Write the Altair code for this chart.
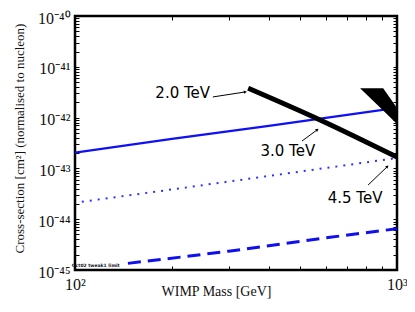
import altair as alt
import pandas as pd

# ---- data ----
solid_mass = [100, 200, 400, 1000]
solid_xs = [2.05e-43, 3.8e-43, 6.9e-43, 1.55e-42]

dotted_mass = [105, 200, 400, 1000]
dotted_xs = [2.2e-44, 3.85e-44, 7.1e-44, 1.6e-43]

dashed_mass = [146, 300, 620, 1000]
dashed_xs = [1.35e-45, 2.35e-45, 4.4e-45, 6.5e-45]

band_mass = [345, 577, 1000]
band_xs = [3.8e-42, 9.0e-43, 1.67e-43]

wedge_mass = [768, 906, 1000]
wedge_top = [3.8e-42, 3.8e-42, 1.55e-42]
wedge_bot = [3.8e-42, 1.38e-42, 7.5e-43]

labels = ["2.0 TeV", "3.0 TeV", "4.5 TeV"]
label_mass = [216, 458, 741]
label_xs = [3.05e-42, 2.2e-43, 2.6e-44]

arrow_x1 = [268, 507, 813]
arrow_y1 = [2.55e-42, 3.46e-43, 4.7e-44]
arrow_x2 = [337, 564, 931]
arrow_y2 = [3.19e-42, 5.7e-43, 1.07e-43]
arrow_angle = [81, 54, 46]

note_text = ["Oct02 tweak1 limit"]
note_mass = [116]
note_xs = [1.2e-45]

x_ticks = [100, 200, 300, 400, 500, 600, 700, 800, 900, 1000]
y_major = [-45, -44, -43, -42, -41, -40]
y_ticks = [float(f"{k}e{e}") for e in y_major[:-1] for k in range(1, 10)] + [1e-40]

sup = {"-": "\u207b", "0": "\u2070", "1": "\u00b9", "2": "\u00b2", "3": "\u00b3",
       "4": "\u2074", "5": "\u2075", "6": "\u2076", "7": "\u2077", "8": "\u2078", "9": "\u2079"}


def supstr(s):
    return "".join(sup[c] for c in s)


y_label_expr = " : ".join(
    f"datum.value == {float(f'1e{e}')!r} ? '10{supstr(str(e))}'" for e in y_major
) + " : ''"
x_label_expr = f"datum.value == 100 ? '10{supstr('2')}' : datum.value == 1000 ? '10{supstr('3')}' : ''"

SERIF = "Liberation Serif"
SANS = "DejaVu Sans"

xscale = alt.Scale(type="log", domain=[100, 1000], nice=False)
yscale = alt.Scale(type="log", domain=[1e-45, 1e-40], nice=False)

x_axis = alt.Axis(orient="bottom", values=x_ticks, labelExpr=x_label_expr, offset=-4, tickSize=4,
                  tickColor="black", domain=False, grid=False, labelPadding=6, labelFont=SERIF,
                  labelFontSize=16, labelColor="#111", labelFlush=False, labelOverlap=False,
                  labelBound=False, title="WIMP Mass [GeV]", titleFont=SERIF, titleFontSize=14,
                  titleFontWeight="normal", titleColor="#111", titleX=141, titleY=25,
                  titleAlign="center", titleBaseline="middle")
y_axis = alt.Axis(orient="left", values=y_ticks, labelExpr=y_label_expr, offset=-4, tickSize=4,
                  tickColor="black", domain=False, grid=False, labelPadding=5, labelFont=SERIF,
                  labelFontSize=16, labelColor="#111", labelFlush=False, labelOverlap=False,
                  labelBound=False, labelOffset=2,
                  title="Cross-section [cm\u00b2] (normalised to nucleon)", titleFont=SERIF,
                  titleFontSize=13, titleFontWeight="normal", titleColor="#111", titleAngle=270,
                  titleX=-60, titleY=122, titleAlign="center", titleBaseline="middle")

X = alt.X("x:Q", scale=xscale, axis=x_axis)
Y = alt.Y("y:Q", scale=yscale, axis=y_axis)

solid_df = pd.DataFrame({"x": solid_mass, "y": solid_xs})
dotted_df = pd.DataFrame({"x": dotted_mass, "y": dotted_xs})
dashed_df = pd.DataFrame({"x": dashed_mass, "y": dashed_xs})
band_df = pd.DataFrame({"x": band_mass, "y": band_xs})
wedge_df = pd.DataFrame({"x": wedge_mass, "y": wedge_top, "y2": wedge_bot})
label_df = pd.DataFrame({"x": label_mass, "y": label_xs, "t": labels})
arrow_df = pd.DataFrame({"x": arrow_x1, "y": arrow_y1, "x2": arrow_x2, "y2": arrow_y2, "a": arrow_angle})
note_df = pd.DataFrame({"x": note_mass, "y": note_xs, "t": note_text})

solid = alt.Chart(solid_df).mark_line(color="#1010f5", strokeWidth=2.3, clip=True).encode(x=X, y=Y)
dotted = alt.Chart(dotted_df).mark_line(color="#3030ff", strokeWidth=2, strokeDash=[2, 6],
                                        clip=True).encode(x=X, y=Y)
dashed = alt.Chart(dashed_df).mark_line(color="#1010ee", strokeWidth=3, strokeDash=[13, 7],
                                        interpolate="monotone", clip=True).encode(x=X, y=Y)
band = alt.Chart(band_df).mark_line(color="black", strokeWidth=5, interpolate="monotone",
                                    clip=True).encode(x=X, y=Y)
wedge = alt.Chart(wedge_df).mark_area(color="black", clip=True).encode(
    x=X, y=Y, y2=alt.Y2("y2:Q"))
texts = alt.Chart(label_df).mark_text(font=SANS, fontSize=15, color="black", align="center",
                                      baseline="middle").encode(x=X, y=Y, text="t:N")
arrows = alt.Chart(arrow_df).mark_rule(color="black", strokeWidth=1).encode(
    x=X, y=Y, x2=alt.X2("x2:Q"), y2=alt.Y2("y2:Q"))
heads = alt.Chart(arrow_df).mark_point(shape="triangle", filled=True, color="black", size=12,
                                       opacity=1).encode(
    x=alt.X("x2:Q", scale=xscale, axis=x_axis), y=alt.Y("y2:Q", scale=yscale, axis=y_axis),
    angle=alt.Angle("a:Q", scale=None))
note = alt.Chart(note_df).mark_text(font=SANS, fontSize=4.5, color="#112", align="center",
                                    baseline="middle", fontWeight="bold").encode(x=X, y=Y, text="t:N")

main = alt.layer(solid, dotted, dashed, band, wedge, arrows, heads, texts, note)

tick_layer = alt.Chart(solid_df).mark_point(opacity=0).encode(
    x=alt.X("x:Q", scale=xscale,
            axis=alt.Axis(orient="top", values=x_ticks, labels=False, offset=-4, tickSize=4,
                          tickColor="black", domain=False, grid=False, title=None)),
    y=alt.Y("y:Q", scale=yscale,
            axis=alt.Axis(orient="right", values=y_ticks, labels=False, offset=-4, tickSize=4,
                          tickColor="black", domain=False, grid=False, title=None)),
)

chart = alt.layer(main, tick_layer).resolve_scale(x="independent", y="independent").properties(
    width=322, height=254,
    padding={"left": 67, "top": 8, "right": 10, "bottom": 34},
    autosize=alt.AutoSizeParams(type="none"),
    background="white",
).configure_view(stroke="black", strokeWidth=2.5)

chart.save("out.html", embed_options={"renderer": "svg", "actions": False})
